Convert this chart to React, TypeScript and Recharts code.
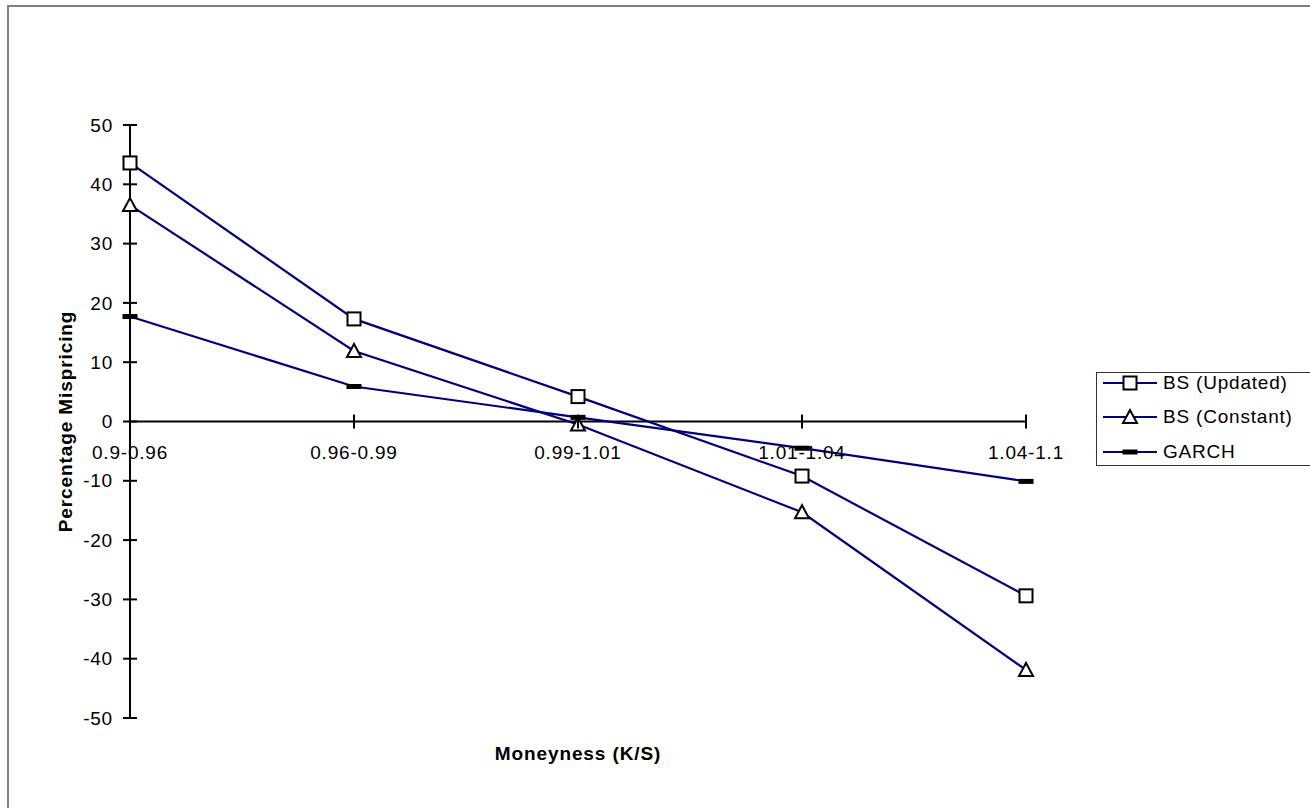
import React from 'react';
import { LineChart, Line, XAxis, YAxis, ReferenceLine } from 'recharts';

const categories = ['0.9-0.96', '0.96-0.99', '0.99-1.01', '1.01-1.04', '1.04-1.1'];
const bsUpdated = [43.6, 17.3, 4.2, -9.2, -29.4];
const bsConstant = [36.5, 11.9, -0.5, -15.3, -41.9];
const garch = [17.7, 5.9, 0.7, -4.5, -10.1];
const yTicks = [-50, -40, -30, -20, -10, 0, 10, 20, 30, 40, 50];

const data = categories.map((name, i) => ({
  name,
  updated: bsUpdated[i],
  constant: bsConstant[i],
  garch: garch[i],
}));

const W = 1310;
const H = 808;
const X_AXIS_H = 30;
const margin = { top: 125, right: 284, bottom: 90 - X_AXIS_H, left: 0 };
const Y_MIN = -50;
const Y_MAX = 50;
const PLOT_LEFT = 130;
const plotH = H - margin.top - margin.bottom - X_AXIS_H;
const zeroY = margin.top + (plotH * Y_MAX) / (Y_MAX - Y_MIN);

const FONT = '"Liberation Sans", Arial, sans-serif';
const NAVY = '#000080';

type MarkerKind = 'square' | 'triangle' | 'dash';

const Marker = ({ kind, cx, cy }: { kind: MarkerKind; cx: number; cy: number }) => {
  if (kind === 'square') {
    return <rect x={cx - 6.5} y={cy - 6.5} width={13} height={13} fill="#fff" stroke="#000" strokeWidth={2} />;
  }
  if (kind === 'triangle') {
    return (
      <polygon
        points={`${cx},${cy - 7} ${cx - 7},${cy + 6} ${cx + 7},${cy + 6}`}
        fill="#fff"
        stroke="#000"
        strokeWidth={2}
      />
    );
  }
  return <rect x={cx - 7.5} y={cy - 2.5} width={15} height={5} fill="#000" />;
};

const makeDot = (kind: MarkerKind) => (props: any) => {
  const { cx, cy, index } = props;
  if (cx == null || cy == null) return <g key={index} />;
  return <Marker key={index} kind={kind} cx={cx} cy={cy} />;
};

const series = [
  { key: 'updated', name: 'BS (Updated)', marker: 'square' as MarkerKind },
  { key: 'constant', name: 'BS (Constant)', marker: 'triangle' as MarkerKind },
  { key: 'garch', name: 'GARCH', marker: 'dash' as MarkerKind },
];

// x axis crosses at y = 0, so ticks and labels are drawn around the zero line
const XTick = (props: any) => {
  const { x, payload } = props;
  return (
    <g>
      <line x1={x} x2={x} y1={zeroY - 7} y2={zeroY + 7} stroke="#000" strokeWidth={2} />
      <text
        x={x}
        y={zeroY + 31}
        dy="0.35em"
        textAnchor="middle"
        fontSize={19}
        letterSpacing={0.8}
        fill="#000"
        fontFamily={FONT}
      >
        {payload.value}
      </text>
    </g>
  );
};

const YTick = (props: any) => {
  const { y, payload } = props;
  return (
    <g>
      <line x1={PLOT_LEFT - 7} x2={PLOT_LEFT + 7} y1={y} y2={y} stroke="#000" strokeWidth={2} />
      <text
        x={PLOT_LEFT - 17}
        y={y}
        dy="0.35em"
        textAnchor="end"
        fontSize={19}
        letterSpacing={0.8}
        fill="#000"
        fontFamily={FONT}
      >
        {payload.value}
      </text>
    </g>
  );
};

const LegendBox = () => (
  <div
    style={{
      position: 'absolute',
      left: 1096,
      top: 372,
      width: 260,
      height: 92,
      border: '1.5px solid #333',
      background: '#fff',
      fontFamily: FONT,
      fontSize: 19,
      letterSpacing: 0.8,
    }}
  >
    {series.map((s, i) => (
      <div
        key={s.key}
        style={{ position: 'absolute', left: 0, top: -1.5 + i * 34.5, height: 22, display: 'flex', alignItems: 'center' }}
      >
        <svg width={64} height={22} style={{ display: 'block' }}>
          <line x1={6} x2={60} y1={11} y2={11} stroke={NAVY} strokeWidth={2} />
          <Marker kind={s.marker} cx={33} cy={11} />
        </svg>
        <span style={{ marginLeft: 2, lineHeight: '22px' }}>{s.name}</span>
      </div>
    ))}
  </div>
);

const App: React.FC = () => {
  return (
    <div style={{ position: 'absolute', left: 0, top: 0, width: W, height: H, overflow: 'hidden', background: '#fff' }}>
      <div
        style={{
          position: 'absolute',
          left: 7,
          top: 5,
          width: 1500,
          height: 1000,
          borderTop: '2px solid #808080',
          borderLeft: '2px solid #808080',
        }}
      />
      <div style={{ position: 'absolute', left: 0, top: 0 }}>
        <LineChart width={W} height={H} data={data} margin={margin}>
          <XAxis
            dataKey="name"
            scale="point"
            padding={{ left: 0, right: 0 }}
            height={X_AXIS_H}
            axisLine={false}
            tickLine={false}
            interval={0}
            tick={<XTick />}
            label={{
              value: 'Moneyness (K/S)',
              position: 'bottom',
              offset: -1,
              fontSize: 19,
              fontWeight: 'bold',
              fill: '#000',
              fontFamily: FONT,
              letterSpacing: 0.9,
            }}
          />
          <YAxis
            width={PLOT_LEFT}
            domain={[Y_MIN, Y_MAX]}
            ticks={yTicks}
            interval={0}
            axisLine={{ stroke: '#000', strokeWidth: 2 }}
            tickLine={false}
            tick={<YTick />}
            label={{
              value: 'Percentage Mispricing',
              angle: -90,
              position: 'center',
              fontSize: 19,
              fontWeight: 'bold',
              fill: '#000',
              fontFamily: FONT,
              letterSpacing: 0.9,
            }}
          />
          <ReferenceLine y={0} stroke="#000" strokeWidth={2} />
          {series.map((s) => (
            <Line
              key={s.key}
              type="linear"
              dataKey={s.key}
              name={s.name}
              stroke={NAVY}
              strokeWidth={2.2}
              dot={makeDot(s.marker)}
              activeDot={false}
              isAnimationActive={false}
            />
          ))}
        </LineChart>
      </div>
      <LegendBox />
    </div>
  );
};

export default App;
